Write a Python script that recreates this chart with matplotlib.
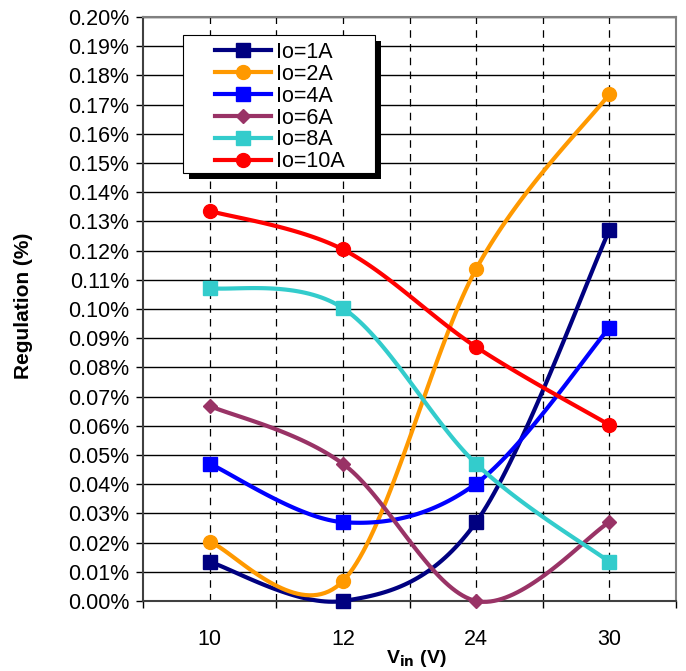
import matplotlib.pyplot as plt
import matplotlib.patches as mpatches
import numpy as np

plt.rcParams['font.family'] = ['Liberation Sans', 'DejaVu Sans']

# data (regulation in %)
vin_labels = ['10', '12', '24', '30']
io_1a = [0.0134, 0.0000, 0.0270, 0.1270]
io_2a = [0.0202, 0.0068, 0.1137, 0.1736]
io_4a = [0.0470, 0.0270, 0.0402, 0.0936]
io_6a = [0.0668, 0.0470, 0.0000, 0.0270]
io_8a = [0.1072, 0.1003, 0.0470, 0.0134]
io_10a = [0.1336, 0.1204, 0.0870, 0.0603]
series_names = ['Io=1A', 'Io=2A', 'Io=4A', 'Io=6A', 'Io=8A', 'Io=10A']


def smooth(x, y, n=40):
  """ Excel-style smoothed line (Catmull-Rom as cubic Bezier). """
  p = np.column_stack([x, y]).astype(float)
  pts = [p[0]]
  for i in range(len(p) - 1):
    p0 = p[i - 1] if i > 0 else p[i]
    p1, p2 = p[i], p[i + 1]
    p3 = p[i + 2] if i + 2 < len(p) else p[i + 1]
    c1 = p1 + (p2 - p0) / 6
    c2 = p2 - (p3 - p1) / 6
    t = np.linspace(0, 1, n)[1:, None]
    b = (1-t)**3*p1 + 3*(1-t)**2*t*c1 + 3*(1-t)*t**2*c2 + t**3*p2
    pts.extend(b)
  pts = np.array(pts)
  return pts[:, 0], pts[:, 1]


fig = plt.figure(figsize=(6.86, 6.71), dpi=100)
ax = fig.add_axes([143/686, 1 - 601/671, 533/686, 584/671])

xs = np.arange(len(vin_labels))
styles = [
  (io_1a, '#000080', 's', 10),
  (io_2a, '#FF9900', 'o', 10),
  (io_4a, '#0000FF', 's', 10),
  (io_6a, '#993366', 'D', 7.5),
  (io_8a, '#33CCCC', 's', 10),
  (io_10a, '#FF0000', 'o', 10),
]
for (vals, col, mk, ms), name in zip(styles, series_names):
  sx, sy = smooth(xs, vals)
  ax.plot(sx, sy, color=col, lw=3, zorder=3, clip_on=False)
  ax.plot(xs, vals, ls='none', marker=mk, ms=ms, color=col, zorder=4, clip_on=False)
  ax.plot([], [], color=col, lw=3, marker=mk, ms=ms, label=name)

ax.set_xlim(-0.5, 3.5)
ax.set_ylim(0, 0.20)
yt = np.arange(0, 0.2001, 0.01)
ax.set_yticks(yt)
ax.set_yticklabels(['%.2f%%' % v for v in yt], fontsize=15.5)
ax.set_xticks(np.arange(-0.5, 3.6, 1.0))
ax.set_xticklabels([])
ax.set_xticks(xs, minor=True)
ax.set_xticklabels(vin_labels, minor=True, fontsize=15.5)
ax.tick_params(axis='x', which='minor', length=0, pad=20)
ax.tick_params(axis='both', which='major', direction='out', length=5, width=1)
ax.tick_params(axis='y', pad=5)

# grid
ax.grid(axis='y', color='black', lw=1, ls='-', zorder=1)
for gx in np.arange(0, 3.01, 0.5):
  ax.axvline(gx, color='black', lw=0.9, ls=(0, (6, 5)), zorder=1)

for s in ['top', 'right']:
  ax.spines[s].set_color('#808080')
  ax.spines[s].set_linewidth(1.5)
for s in ['left', 'bottom']:
  ax.spines[s].set_color('#404040')
  ax.spines[s].set_linewidth(1.5)

ax.set_ylabel('Regulation (%)', fontsize=15, fontweight='bold')
ax.yaxis.set_label_coords(-0.206, 0.505)
ax.set_xlabel('V$_{\\mathbf{in}}$ (V)', fontsize=14, fontweight='bold')
ax.xaxis.set_label_coords(0.512, -0.08)

# legend with Excel-like frame and solid shadow
leg = ax.legend(loc='upper left', bbox_to_anchor=(215/686, 1 - 42/671),
                bbox_transform=fig.transFigure, frameon=False, fontsize=15.5,
                handlelength=2.6, handletextpad=0.23, labelspacing=0.04,
                borderpad=0, borderaxespad=0)
leg.set_zorder(6)
fx0, fy0, fw, fh = 183/686, 1 - 173/671, 192/686, 138/671
ax.add_patch(mpatches.Rectangle((fx0 + 6/686, fy0 - 6/671), fw, fh, transform=fig.transFigure,
             facecolor='black', edgecolor='none', zorder=5, clip_on=False))
ax.add_patch(mpatches.Rectangle((fx0, fy0), fw, fh, transform=fig.transFigure,
             facecolor='white', edgecolor='black', lw=0.8, zorder=5, clip_on=False))

fig.savefig('out.png', dpi=100)
